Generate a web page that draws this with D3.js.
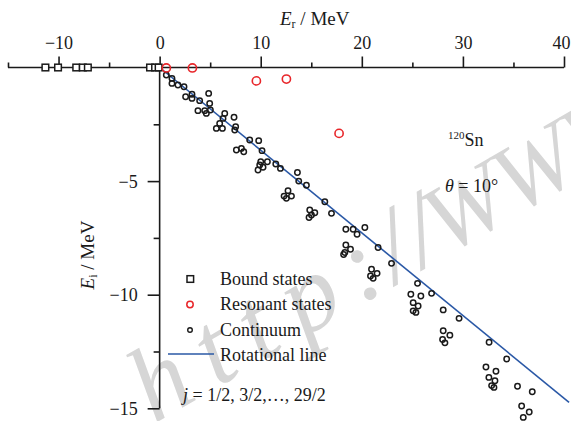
<!DOCTYPE html>
<html>
<head>
<meta charset="utf-8">
<script src="https://cdn.jsdelivr.net/npm/d3@7"></script>
<style>
  html, body { margin: 0; padding: 0; background: #fff; }
  svg { display: block; }
  text { font-family: "Liberation Serif", "Times New Roman", serif; fill: #1a1a1a; }
</style>
</head>
<body>
<svg id="chart" width="571" height="421"></svg>
<script>
// ---- data (MeV) ----
const boundEr = [-11.3, -10.05, -8.25, -7.6, -7.1, -0.95, -0.45, -0.1];
const boundEi = [0, 0, 0, 0, 0, 0, 0, 0];

const resonantEr = [0.66, 3.24, 9.57, 12.54, 17.75];
const resonantEi = [-0.02, -0.02, -0.59, -0.51, -2.9];

const continuumEr = [
  0.66, 1.22, 1.22, 1.81, 2.41, 2.57, 3.20, 3.20, 3.96, 4.85,
  4.95, 3.79, 4.46, 4.62, 5.02, 6.44, 6.27, 5.94, 5.61, 6.21,
  7.36, 7.52, 7.43, 8.91, 9.80, 7.59, 8.09, 8.32, 10.13, 10.00,
  10.66, 9.90, 10.23, 9.73, 11.49, 11.95, 13.63, 13.76, 14.52, 12.70,
  12.31, 13.04, 12.54, 16.34, 14.85, 15.35, 15.02, 14.78, 17.00, 18.42,
  19.14, 19.53, 20.30, 18.42, 18.88, 18.32, 18.20, 21.61, 22.94, 20.96,
  21.51, 20.86, 21.12, 25.51, 24.85, 25.84, 25.08, 25.57, 25.08, 25.35,
  26.90, 28.05, 29.62, 28.05, 28.71, 27.99, 28.22, 32.59, 34.33, 32.28,
  33.27, 32.57, 33.17, 32.84, 33.07, 35.40, 36.86, 35.81, 36.56, 35.97
];
const continuumEi = [
  -0.33, -0.48, -0.70, -0.77, -0.85, -1.29, -1.18, -1.36, -1.46, -1.14,
  -1.58, -1.90, -1.90, -2.02, -1.87, -2.02, -2.24, -2.46, -2.68, -2.68,
  -2.19, -2.61, -2.75, -3.19, -3.22, -3.63, -3.56, -3.71, -3.66, -4.15,
  -4.15, -4.29, -4.39, -4.51, -4.25, -4.44, -4.62, -5.00, -5.18, -5.42,
  -5.66, -5.66, -5.76, -5.91, -6.27, -6.39, -6.49, -6.60, -6.42, -7.12,
  -7.12, -7.34, -7.04, -7.81, -8.00, -8.14, -8.23, -7.92, -8.62, -8.88,
  -9.06, -9.18, -9.28, -9.50, -9.98, -10.06, -10.35, -10.50, -10.71, -10.78,
  -9.94, -10.67, -11.04, -11.59, -11.78, -11.97, -12.12, -12.09, -12.83, -13.18,
  -13.37, -13.64, -13.79, -14.00, -14.08, -14.03, -14.27, -14.90, -15.16, -15.40
];

// rotational line for theta = 10 deg (end points)
const rotLineEr = [0, 40.5];
const rotLineEi = [0, -14.74];

const xMajorTicks = [-10, 0, 10, 20, 30, 40];
const xMinorTicks = [-15, -5, 5, 15, 25, 35];
const yMajorTicks = [-5, -10, -15];
const yMinorTicks = [-2.5, -7.5, -12.5];

const legendLabels = ["Bound states", "Resonant states", "Continuum", "Rotational line"];

// ---- drawing ----
const svg = d3.select("#chart");
const x = d3.scaleLinear().domain([-15, 40]).range([8, 564]);
const y = d3.scaleLinear().domain([0, -15]).range([67.5, 408.3]);

const RED = "#e8262a";
const BLUE = "#2a58a6";
const INK = "#1a1a1a";

// faint site stamp behind the plot
const stamp = svg.append("text")
  .attr("transform", "translate(154,424) rotate(-30)")
  .attr("font-size", 106)
  .attr("font-style", "italic")
  .style("fill", "#d6d6d6");
stamp.append("tspan").attr("letter-spacing", 20).text("http");
stamp.append("tspan").attr("dx", -6).text(":");
stamp.append("tspan").attr("dx", 6).text("/");
stamp.append("tspan").attr("dx", 2).text("/");
stamp.append("tspan").attr("dx", -4).attr("font-size", 96).text("WWW");

// axes
const xAxisMajor = d3.axisTop(x).tickValues(xMajorTicks).tickSize(11).tickPadding(8)
  .tickFormat(d3.format("d"));
const xAxisMinor = d3.axisTop(x).tickValues(xMinorTicks).tickSize(5).tickFormat("");
const yAxisMajor = d3.axisLeft(y).tickValues(yMajorTicks).tickSize(12).tickPadding(10)
  .tickFormat(d3.format("d"));
const yAxisMinor = d3.axisLeft(y).tickValues(yMinorTicks).tickSize(6).tickFormat("");

function styleAxis(g) {
  g.select(".domain").remove();
  g.selectAll("line").attr("stroke", INK).attr("stroke-width", 1.6);
  g.selectAll("text").attr("font-size", 18).attr("font-family", "Liberation Serif").style("fill", INK);
}

const gx = svg.append("g").attr("transform", `translate(0,${y(0)})`);
const gxMaj = gx.append("g").call(xAxisMajor).call(styleAxis);
// keep the last label inside the frame
gxMaj.selectAll("text").filter(d => d === 40).attr("text-anchor", "end").attr("dx", 6);
gx.append("g").call(xAxisMinor).call(styleAxis);
gx.append("line").attr("x1", x(-15)).attr("x2", x(40)).attr("y1", 0).attr("y2", 0)
  .attr("stroke", INK).attr("stroke-width", 1.6);

const gy = svg.append("g").attr("transform", `translate(${x(0)},0)`);
const gyMaj = gy.append("g").call(yAxisMajor).call(styleAxis);
gyMaj.selectAll("text").attr("dy", "0.34em");
gy.append("g").call(yAxisMinor).call(styleAxis);
gy.append("line").attr("x1", 0).attr("x2", 0).attr("y1", y(0)).attr("y2", y(-15))
  .attr("stroke", INK).attr("stroke-width", 1.6);

// axis titles
const xt = svg.append("text").attr("x", 280).attr("y", 25).attr("font-size", 19);
xt.append("tspan").attr("font-style", "italic").text("E");
xt.append("tspan").attr("font-size", 12).attr("dy", 3).text("r");
xt.append("tspan").attr("dy", -3).text(" / MeV");

const yt = svg.append("text").attr("transform", "translate(94,255) rotate(-90)")
  .attr("text-anchor", "middle").attr("font-size", 19);
yt.append("tspan").attr("font-style", "italic").text("E");
yt.append("tspan").attr("font-size", 12).attr("dy", 3).text("i");
yt.append("tspan").attr("dy", -3).text(" / MeV");

// rotational line
const rot = rotLineEr.map((e, i) => [e, rotLineEi[i]]);
svg.append("path")
  .datum(rot)
  .attr("d", d3.line().x(d => x(d[0])).y(d => y(d[1])))
  .attr("fill", "none").attr("stroke", BLUE).attr("stroke-width", 1.6);

// continuum
const cont = continuumEr.map((e, i) => [e, continuumEi[i]]);
svg.append("g").selectAll("circle").data(cont).join("circle")
  .attr("cx", d => x(d[0])).attr("cy", d => y(d[1])).attr("r", 2.7)
  .attr("fill", "none").attr("stroke", INK).attr("stroke-width", 1.5);

// bound states
const bound = boundEr.map((e, i) => [e, boundEi[i]]);
const sq = 6.6;
svg.append("g").selectAll("rect").data(bound).join("rect")
  .attr("x", d => x(d[0]) - sq / 2).attr("y", d => y(d[1]) - sq / 2)
  .attr("width", sq).attr("height", sq)
  .attr("fill", "#fff").attr("stroke", INK).attr("stroke-width", 1.5);

// resonant states
const res = resonantEr.map((e, i) => [e, resonantEi[i]]);
svg.append("g").selectAll("circle").data(res).join("circle")
  .attr("cx", d => x(d[0])).attr("cy", d => y(d[1])).attr("r", 4.1)
  .attr("fill", "none").attr("stroke", RED).attr("stroke-width", 1.6);

// legend
const lg = svg.append("g");
const rowY = [279, 304.5, 330, 355.5];
lg.append("rect").attr("x", 187).attr("y", rowY[0] - 3.3).attr("width", 6.6).attr("height", 6.6)
  .attr("fill", "none").attr("stroke", INK).attr("stroke-width", 1.5);
lg.append("circle").attr("cx", 190).attr("cy", rowY[1]).attr("r", 3.2)
  .attr("fill", "none").attr("stroke", RED).attr("stroke-width", 1.5);
lg.append("circle").attr("cx", 190).attr("cy", rowY[2]).attr("r", 2.3)
  .attr("fill", "none").attr("stroke", INK).attr("stroke-width", 1.4);
lg.append("line").attr("x1", 168).attr("x2", 214).attr("y1", rowY[3] - 1.5).attr("y2", rowY[3] - 1.5)
  .attr("stroke", BLUE).attr("stroke-width", 1.6);
lg.selectAll("text.lbl").data(legendLabels).join("text").attr("class", "lbl")
  .attr("x", 220).attr("y", (d, i) => rowY[i] + 5.5).attr("font-size", 18).text(d => d);

// annotations
const jt = svg.append("text").attr("x", 183).attr("y", 401).attr("font-size", 18);
jt.append("tspan").attr("font-style", "italic").text("j");
jt.append("tspan").text(" = 1/2, 3/2,\u2026, 29/2");

const sn = svg.append("text").attr("x", 448).attr("y", 146).attr("font-size", 18);
sn.append("tspan").attr("font-size", 11).attr("dy", -7).text("120");
sn.append("tspan").attr("dy", 7).text("Sn");

const th = svg.append("text").attr("x", 445).attr("y", 192).attr("font-size", 18);
th.append("tspan").attr("font-style", "italic").text("\u03b8");
th.append("tspan").text(" = 10\u00b0");
</script>
</body>
</html>
